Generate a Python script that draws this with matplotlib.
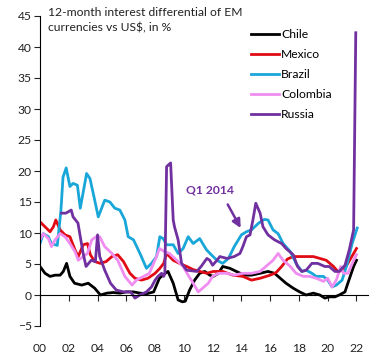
import matplotlib
matplotlib.use("Agg")
import matplotlib.pyplot as plt

chile_x = [2000.0, 2000.35, 2000.7, 2001.05, 2001.4, 2001.62, 2001.85, 2002.08, 2002.4, 2002.9, 2003.35, 2003.8, 2004.2, 2004.65, 2005.1, 2005.55, 2006.0, 2006.5, 2006.95, 2007.4, 2007.9, 2008.3, 2008.7, 2008.9, 2009.26, 2009.6, 2009.9, 2010.1, 2010.4, 2010.75, 2011.1, 2011.45, 2011.8, 2012.05, 2012.4, 2012.7, 2013.2, 2013.65, 2014.2, 2014.7, 2015.3, 2015.85, 2016.3, 2016.7, 2017.1, 2017.6, 2018.05, 2018.5, 2019.0, 2019.45, 2019.8, 2020.1, 2020.5, 2020.8, 2021.2, 2021.4, 2021.8, 2022.0]
chile_y = [4.6, 3.5, 3.0, 3.2, 3.2, 3.8, 5.1, 3.0, 1.9, 1.6, 1.9, 1.1, 0.0, 0.3, 0.4, 0.3, 0.5, 0.5, 0.3, 0.2, 0.5, 2.7, 3.5, 3.8, 1.9, -0.8, -1.1, -1.0, 0.8, 2.4, 3.5, 3.8, 3.2, 3.0, 3.5, 4.6, 4.3, 3.8, 3.2, 3.2, 3.5, 3.8, 3.5, 2.7, 1.9, 1.1, 0.5, 0.0, 0.3, 0.0, -0.5, -0.3, -0.3, 0.0, 0.5, 1.9, 4.6, 5.6]

mexico_x = [2000.0, 2000.35, 2000.7, 2000.93, 2001.1, 2001.4, 2001.74, 2002.08, 2002.43, 2002.66, 2003.0, 2003.3, 2003.5, 2003.8, 2004.2, 2004.6, 2005.0, 2005.4, 2005.8, 2006.25, 2006.6, 2007.06, 2007.5, 2008.0, 2008.33, 2008.6, 2008.8, 2009.26, 2009.7, 2010.2, 2010.65, 2011.1, 2011.6, 2012.05, 2012.7, 2013.4, 2014.1, 2014.7, 2015.3, 2016.0, 2016.4, 2016.8, 2017.2, 2017.6, 2018.3, 2019.0, 2019.45, 2019.9, 2020.4, 2020.7, 2021.1, 2021.4, 2021.8, 2022.0]
mexico_y = [11.8, 11.0, 10.2, 11.0, 12.1, 10.5, 9.7, 9.4, 7.3, 6.2, 8.1, 8.3, 6.5, 5.4, 5.1, 5.4, 6.2, 6.5, 5.4, 3.5, 2.7, 2.4, 2.7, 3.5, 4.3, 5.1, 6.7, 5.6, 5.1, 4.6, 4.1, 3.8, 3.5, 3.8, 3.8, 3.2, 3.0, 2.4, 2.7, 3.2, 3.6, 4.6, 5.8, 6.2, 6.2, 6.2, 5.9, 5.6, 4.6, 3.8, 4.0, 5.1, 6.7, 7.5]

brazil_x = [2000.0, 2000.23, 2000.58, 2000.8, 2001.2, 2001.45, 2001.6, 2001.82, 2002.08, 2002.3, 2002.6, 2002.8, 2003.24, 2003.47, 2003.7, 2004.05, 2004.5, 2004.86, 2005.2, 2005.55, 2005.9, 2006.13, 2006.5, 2006.95, 2007.4, 2007.75, 2008.1, 2008.33, 2008.56, 2008.8, 2009.26, 2009.6, 2009.95, 2010.3, 2010.65, 2011.1, 2011.57, 2011.9, 2012.3, 2012.7, 2013.1, 2013.5, 2014.0, 2014.35, 2014.7, 2015.2, 2015.6, 2015.85, 2016.2, 2016.55, 2016.9, 2017.4, 2017.8, 2018.2, 2018.5, 2018.9, 2019.2, 2019.7, 2020.0, 2020.3, 2020.6, 2021.0, 2021.3, 2021.7, 2022.05]
brazil_y = [8.3, 9.9, 9.4, 8.3, 8.0, 13.5, 19.0, 20.5, 17.5, 18.0, 17.7, 14.0, 19.6, 18.8, 16.4, 12.6, 15.3, 15.0, 14.0, 13.7, 12.1, 9.4, 8.9, 6.7, 4.3, 5.1, 6.2, 9.4, 9.1, 8.1, 8.1, 6.7, 7.5, 9.4, 8.3, 9.1, 7.3, 6.5, 5.6, 5.1, 5.9, 7.8, 9.7, 10.2, 10.5, 11.6, 12.2, 12.1, 10.5, 9.9, 8.3, 7.0, 5.1, 3.8, 4.0, 3.5, 3.0, 3.0, 2.4, 1.3, 1.6, 2.4, 4.6, 8.3, 10.8]

colombia_x = [2000.0, 2000.23, 2000.58, 2000.8, 2001.05, 2001.4, 2001.74, 2002.08, 2002.43, 2002.66, 2003.0, 2003.3, 2003.6, 2003.9, 2004.15, 2004.5, 2005.0, 2005.4, 2005.9, 2006.4, 2006.7, 2007.2, 2007.6, 2008.1, 2008.3, 2008.65, 2009.0, 2009.5, 2009.95, 2010.3, 2010.65, 2011.0, 2011.3, 2011.7, 2012.0, 2012.4, 2013.0, 2013.5, 2014.1, 2014.7, 2015.3, 2015.7, 2016.2, 2016.55, 2016.9, 2017.4, 2017.8, 2018.3, 2018.75, 2019.2, 2019.7, 2020.0, 2020.3, 2020.6, 2020.9, 2021.1, 2021.4, 2021.8, 2022.0]
colombia_y = [8.9, 9.9, 9.1, 7.8, 8.9, 9.9, 9.4, 8.3, 7.0, 5.6, 6.2, 6.7, 8.9, 9.4, 9.4, 7.8, 6.7, 5.6, 3.0, 1.6, 2.4, 3.0, 3.5, 6.2, 7.5, 7.0, 6.7, 5.6, 4.6, 3.2, 1.9, 0.5, 1.1, 1.9, 3.0, 3.5, 3.5, 3.2, 3.5, 3.5, 3.8, 4.6, 5.6, 6.7, 5.6, 4.6, 3.5, 3.0, 3.0, 2.7, 2.2, 2.7, 1.3, 2.4, 4.6, 3.5, 3.5, 5.6, 6.5]

russia_x = [2001.5, 2001.8, 2002.17, 2002.3, 2002.64, 2002.8, 2003.0, 2003.2, 2003.56, 2003.85, 2004.0, 2004.15, 2004.5, 2004.9, 2005.3, 2005.8, 2006.3, 2006.6, 2006.94, 2007.4, 2007.75, 2008.0, 2008.2, 2008.45, 2008.6, 2008.68, 2008.8, 2009.08, 2009.26, 2009.35, 2009.6, 2009.84, 2010.2, 2010.9, 2011.2, 2011.6, 2011.8, 2012.0, 2012.3, 2012.5, 2013.0, 2013.5, 2013.9, 2014.1, 2014.35, 2014.6, 2014.8, 2015.0, 2015.3, 2015.5, 2015.85, 2016.3, 2016.8, 2017.1, 2017.6, 2017.9, 2018.2, 2018.5, 2018.9, 2019.3, 2019.8, 2020.1, 2020.5, 2020.8, 2021.2, 2021.5, 2021.8, 2021.95]
russia_y = [13.2, 13.2, 13.7, 12.6, 11.6, 9.4, 6.7, 4.6, 5.6, 5.4, 9.7, 6.2, 4.0, 1.9, 0.8, 0.5, 0.5, -0.5, 0.0, 0.5, 1.3, 2.4, 3.0, 3.5, 3.0, 3.5, 20.7, 21.3, 12.1, 11.0, 8.9, 5.1, 4.0, 3.8, 4.6, 5.9, 5.6, 4.8, 5.6, 6.2, 5.9, 6.2, 6.7, 7.8, 9.4, 9.7, 12.1, 14.8, 13.2, 11.0, 9.7, 8.9, 8.3, 7.5, 6.5, 4.6, 3.8, 4.0, 5.1, 5.1, 4.6, 4.6, 3.8, 3.8, 4.8, 7.3, 10.5, 42.3]

series = [
    ("Chile", chile_x, chile_y, "#000000"),
    ("Mexico", mexico_x, mexico_y, "#e00b14"),
    ("Brazil", brazil_x, brazil_y, "#19a6d8"),
    ("Colombia", colombia_x, colombia_y, "#f08df0"),
    ("Russia", russia_x, russia_y, "#7030a0"),
]

y_ticks = list(range(-5, 50, 5))
x_ticks = list(range(2000, 2023, 2))
x_labels = ["00", "02", "04", "06", "08", "10", "12", "14", "16", "18", "20", "22"]

plt.rcParams["font.family"] = ["Lato", "DejaVu Sans"]
fig = plt.figure(figsize=(3.83, 3.60), dpi=100)
ax = fig.add_axes([40 / 383, 1 - 326 / 360, (368 - 40) / 383, 310 / 360])

for name, xs, ys, c in series:
    ax.plot(xs, ys, color=c, lw=2.0, label=name, solid_joinstyle="round")

ax.set_xlim(2000, 2022.8)
ax.set_ylim(-5, 45)
ax.set_yticks(y_ticks)
ax.set_xticks(x_ticks)
ax.set_xticklabels(x_labels)
for s in ["top", "right"]:
    ax.spines[s].set_visible(False)
ax.spines["bottom"].set_position(("data", 0))
ax.spines["bottom"].set_bounds(2000, 2022.8)
ax.tick_params(axis="x", direction="out", length=4, pad=30.5, labelsize=8.7, colors="#222222")
ax.tick_params(axis="y", direction="out", length=4, pad=2, labelsize=8.7, colors="#222222")

fig.text(48 / 383, 1 - 7 / 360, "12-month interest differential of EM\ncurrencies vs US$, in %",
         ha="left", va="top", fontsize=8.7, color="#222222", linespacing=1.45)

leg = ax.legend(loc="upper left", bbox_to_anchor=(246 / 383, 1 - 24 / 360),
                bbox_transform=fig.transFigure, frameon=False, fontsize=8.7,
                handlelength=2.3, handletextpad=0.2, labelspacing=0.75, borderaxespad=0)

ax.text(2011.85, 17.0, "Q1 2014", color="#7030a0", fontsize=8.7, fontweight="bold",
        ha="center", va="center")
ax.annotate("", xy=(2013.95, 10.8), xytext=(2013.05, 14.6),
            arrowprops=dict(arrowstyle="-|>,head_length=0.5,head_width=0.25", color="#7030a0",
                            lw=1.8, shrinkA=0, shrinkB=0))

fig.savefig("out.png", dpi=100)
